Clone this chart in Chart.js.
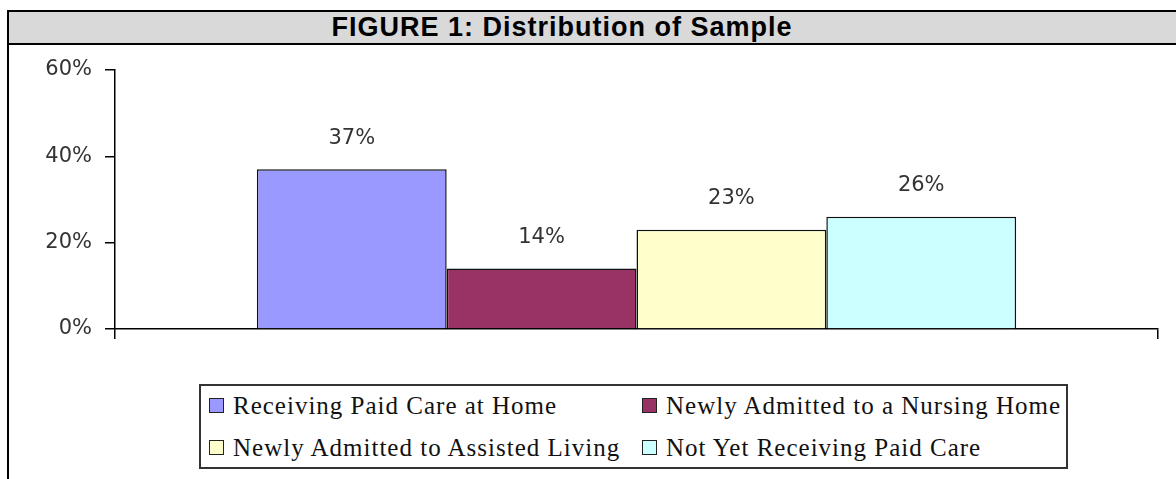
<!DOCTYPE html>
<html>
<head>
<meta charset="utf-8">
<script src="https://cdn.jsdelivr.net/npm/chart.js@4"></script>
<style>
  html, body { margin: 0; padding: 0; background: #fff; }
  body { width: 1176px; height: 479px; position: relative; overflow: hidden; }
  .frame { position: absolute; left: 7px; top: 10px; width: 1200px; height: 480px; border-left: 2px solid #000; }
  .title {
    position: absolute; left: 7px; top: 10px; width: 1200px; height: 31px;
    background: #d9d9d9; border-top: 2px solid #000; border-bottom: 2px solid #000; border-left: 2px solid #000;
  }
  .title span {
    position: absolute; left: 0; width: 1106px; top: 0; line-height: 31px; text-align: center;
    font: bold 27px "Liberation Sans", Arial, sans-serif; letter-spacing: 1px; color: #000;
  }
  #wrap { position: absolute; left: 10px; top: 44px; width: 1166px; height: 336px; }
  #legend {
    position: absolute; left: 199px; top: 384px;
    border: 2px solid #333;
    display: grid; grid-template-columns: 433px auto; grid-auto-rows: 42px;
    padding: 0 0 0 8px; box-sizing: border-box; width: 869px; height: 85px; align-content: center;
    font: 25px "Liberation Serif", "Times New Roman", serif; letter-spacing: 1px; color: #111;
  }
  .item { display: flex; align-items: center; white-space: nowrap; }
  .sw { width: 13px; height: 13px; border: 1px solid #222; margin-right: 9px; flex: none; }
</style>
</head>
<body>
<div class="frame"></div>
<div class="title"><span>FIGURE 1: Distribution of Sample</span></div>
<div id="wrap"><canvas id="chart"></canvas></div>
<div id="legend"></div>
<script>
const categories = [''];
const seriesNames = [
  'Receiving Paid Care at Home',
  'Newly Admitted to a Nursing Home',
  'Newly Admitted to Assisted Living',
  'Not Yet Receiving Paid Care'
];
const seriesValues = [37, 14, 23, 26];
const seriesColors = ['#9999ff', '#993366', '#ffffcc', '#ccffff'];
const yTicks = [0, 20, 40, 60];

const labelFont = '21px "DejaVu Sans", sans-serif';

const valueLabels = {
  id: 'valueLabels',
  afterDatasetsDraw(chart) {
    const ctx = chart.ctx;
    ctx.save();
    ctx.font = labelFont;
    ctx.fillStyle = '#333';
    ctx.textAlign = 'center';
    ctx.textBaseline = 'middle';
    chart.data.datasets.forEach((ds, i) => {
      chart.getDatasetMeta(i).data.forEach((bar, j) => {
        ctx.fillText(ds.data[j] + '%', bar.x, bar.y - 31);
      });
    });
    ctx.restore();
  }
};

const data = {
  labels: categories,
  datasets: seriesNames.map((name, i) => ({
    label: name,
    data: [seriesValues[i]],
    backgroundColor: seriesColors[i],
    borderColor: '#111',
    borderWidth: 1.5,
    categoryPercentage: 0.728,
    barPercentage: 1
  }))
};

const options = {
  responsive: true,
  maintainAspectRatio: false,
  animation: false,
  layout: { padding: { left: 0, right: 18, top: 26, bottom: 0 } },
  plugins: {
    legend: { display: false },
    tooltip: { enabled: false }
  },
  scales: {
    x: {
      ticks: { display: false },
      grid: { drawOnChartArea: false, tickLength: 10, color: '#000', lineWidth: 1.5 },
      border: { color: '#000', width: 1.5 },
      afterFit: (axis) => { axis.height = 51; }
    },
    y: {
      min: 0,
      max: 60,
      afterBuildTicks: (axis) => { axis.ticks = yTicks.map(v => ({ value: v })); },
      ticks: {
        callback: (v) => v + '%',
        font: { family: '"DejaVu Sans", sans-serif', size: 21 },
        color: '#333',
        padding: 13
      },
      grid: { drawOnChartArea: false, tickLength: 10, color: '#000', lineWidth: 1.5 },
      border: { color: '#000', width: 1.5 },
      afterFit: (axis) => { axis.width = 105; }
    }
  }
};

new Chart(document.getElementById('chart'), {
  type: 'bar',
  data: data,
  options: options,
  plugins: [valueLabels]
});

const legend = document.getElementById('legend');
seriesNames.forEach((name, i) => {
  const div = document.createElement('div');
  div.className = 'item';
  div.innerHTML = `<span class="sw" style="background:${seriesColors[i]}"></span><span>${name}</span>`;
  legend.appendChild(div);
});
</script>
</body>
</html>
